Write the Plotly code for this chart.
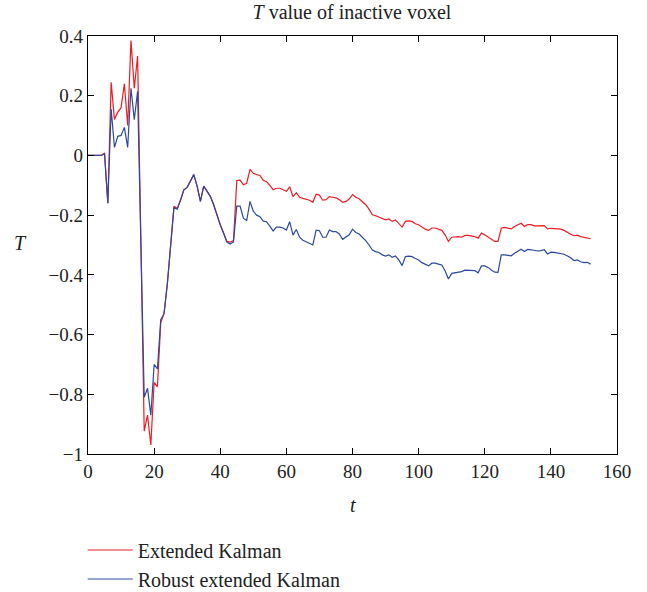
import plotly.graph_objects as go

t = list(range(0, 153))

extended_kalman = [
    0, 0, 0, 0, 0, 0.008, -0.16, 0.245, 0.12, 0.145,
    0.16, 0.24, 0.10, 0.385, 0.225, 0.333, -0.295, -0.923, -0.87, -0.97,
    -0.76, -0.775, -0.56, -0.53, -0.43, -0.31, -0.17, -0.178, -0.15, -0.115,
    -0.107, -0.086, -0.064, -0.103, -0.154, -0.103, -0.12, -0.137, -0.165, -0.2,
    -0.232, -0.26, -0.288, -0.29, -0.285, -0.084, -0.083, -0.098, -0.093, -0.047,
    -0.06, -0.064, -0.067, -0.083, -0.088, -0.1, -0.115, -0.11, -0.11, -0.115,
    -0.12, -0.105, -0.138, -0.125, -0.14, -0.144, -0.148, -0.15, -0.157, -0.13,
    -0.133, -0.15, -0.148, -0.138, -0.14, -0.142, -0.148, -0.157, -0.154, -0.146,
    -0.131, -0.14, -0.145, -0.154, -0.165, -0.18, -0.199, -0.202, -0.207, -0.213,
    -0.216, -0.213, -0.221, -0.216, -0.229, -0.24, -0.221, -0.219, -0.221, -0.229,
    -0.232, -0.24, -0.247, -0.251, -0.243, -0.243, -0.246, -0.251, -0.266, -0.288,
    -0.274, -0.272, -0.272, -0.274, -0.268, -0.268, -0.269, -0.272, -0.277, -0.260,
    -0.266, -0.274, -0.283, -0.288, -0.288, -0.244, -0.241, -0.244, -0.246, -0.238,
    -0.232, -0.227, -0.238, -0.232, -0.232, -0.236, -0.236, -0.235, -0.235, -0.246,
    -0.244, -0.245, -0.246, -0.247, -0.251, -0.258, -0.264, -0.269, -0.267, -0.272,
    -0.274, -0.275, -0.279,
]

robust_extended_kalman = [
    0, 0, 0, 0, 0, 0.005, -0.16, 0.155, 0.027, 0.064,
    0.067, 0.094, 0.027, 0.225, 0.12, 0.215, -0.30, -0.81, -0.78, -0.87,
    -0.70, -0.715, -0.55, -0.53, -0.43, -0.31, -0.175, -0.18, -0.15, -0.115,
    -0.107, -0.086, -0.064, -0.103, -0.154, -0.103, -0.12, -0.137, -0.165, -0.2,
    -0.232, -0.26, -0.29, -0.297, -0.29, -0.17, -0.17, -0.21, -0.218, -0.154,
    -0.187, -0.2, -0.205, -0.22, -0.222, -0.237, -0.253, -0.24, -0.24, -0.243,
    -0.25, -0.222, -0.267, -0.248, -0.274, -0.284, -0.29, -0.296, -0.3, -0.25,
    -0.252, -0.274, -0.274, -0.25, -0.255, -0.255, -0.263, -0.281, -0.274, -0.266,
    -0.247, -0.258, -0.263, -0.274, -0.285, -0.3, -0.317, -0.322, -0.325, -0.333,
    -0.337, -0.333, -0.341, -0.337, -0.35, -0.369, -0.339, -0.337, -0.339, -0.345,
    -0.35, -0.359, -0.364, -0.37, -0.361, -0.361, -0.364, -0.367, -0.386, -0.414,
    -0.395, -0.393, -0.393, -0.389, -0.384, -0.384, -0.385, -0.386, -0.393, -0.370,
    -0.370, -0.375, -0.384, -0.391, -0.392, -0.333, -0.333, -0.334, -0.336, -0.328,
    -0.320, -0.314, -0.322, -0.315, -0.316, -0.319, -0.320, -0.319, -0.316, -0.330,
    -0.324, -0.325, -0.327, -0.328, -0.331, -0.337, -0.343, -0.352, -0.350, -0.356,
    -0.359, -0.358, -0.364,
]

x_ticks = [0, 20, 40, 60, 80, 100, 120, 140, 160]
y_ticks = [0.4, 0.2, 0, -0.2, -0.4, -0.6, -0.8, -1]

FONT = "Liberation Serif"
TXT = "#222222"

fig = go.Figure()
fig.add_trace(go.Scatter(x=t, y=extended_kalman, mode="lines", name="Extended Kalman",
                         line=dict(color="#ed1c24", width=1.2)))
fig.add_trace(go.Scatter(x=t, y=robust_extended_kalman, mode="lines", name="Robust extended Kalman",
                         line=dict(color="#2b4a9e", width=1.2)))

axis_common = dict(showgrid=False, zeroline=False, showline=True, linecolor="black", linewidth=1.3,
                   mirror="allticks", ticks="inside", ticklen=6, tickcolor="black", tickwidth=1.3,
                   tickfont=dict(family=FONT, size=19, color=TXT))

fig.update_xaxes(range=[0, 160], tickvals=x_ticks, **axis_common)
fig.update_yaxes(range=[-1, 0.4], tickvals=y_ticks, **axis_common)

fig.update_layout(
    width=647, height=592,
    margin=dict(l=88, r=30, t=36, b=138, autoexpand=False),
    paper_bgcolor="white", plot_bgcolor="white",
    font=dict(family=FONT, size=19, color=TXT),
    title=dict(text="<i>T</i> value of inactive voxel", xref="container", yref="container",
               x=0.544, xanchor="center", y=0.979, yanchor="middle",
               font=dict(family=FONT, size=20, color=TXT)),
    showlegend=True,
    legend=dict(x=-0.01, xanchor="left", y=-0.183, yanchor="top", bgcolor="rgba(0,0,0,0)",
                font=dict(family=FONT, size=20, color=TXT), tracegroupgap=0,
                itemwidth=45),
    annotations=[
        dict(text="<i>T</i>", xref="paper", yref="paper", x=-0.1285, y=0.505,
             xanchor="center", yanchor="middle", showarrow=False,
             font=dict(family=FONT, size=20, color=TXT)),
        dict(text="<i>t</i>", xref="paper", yref="paper", x=0.5, y=-0.122,
             xanchor="center", yanchor="middle", showarrow=False,
             font=dict(family=FONT, size=20, color=TXT)),
    ],
)

fig.write_html("out.html",
               config={"displayModeBar": False},
               post_script="document.body.style.margin='0';document.body.style.padding='0';")
